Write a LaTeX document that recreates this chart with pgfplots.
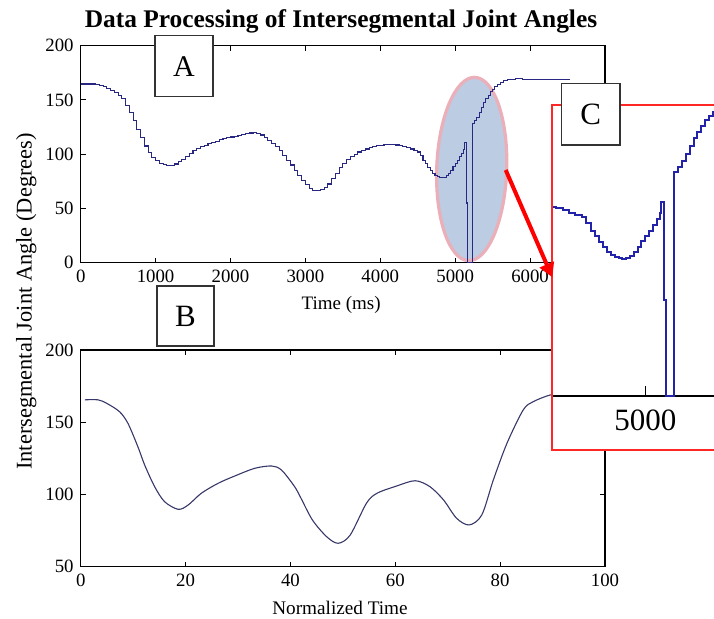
\documentclass[border=0pt]{standalone}
\usepackage{fontspec}
\setmainfont{Liberation Serif}
\usepackage{pgfplots}
\usepackage{pgfplotstable}
\pgfplotsset{compat=1.18}
\usetikzlibrary{arrows.meta}

\definecolor{curveA}{RGB}{40,40,130}
\definecolor{curveB}{RGB}{55,55,105}
\definecolor{insetblue}{RGB}{35,35,170}
\definecolor{ellfill}{RGB}{188,204,226}
\definecolor{ellline}{RGB}{234,175,184}

\pgfplotstableread{
t v
0 164.7
50 164.7
100 164.7
150 164.7
200 164.5
250 163.5
300 162
350 160.5
400 159
450 157
500 154
550 151
600 145
650 138.5
700 131
750 123
800 115
850 107.5
900 101.5
950 97
1000 94
1050 91.8
1100 90.3
1150 89.2
1200 89.5
1250 91
1300 93
1350 95.5
1400 98
1450 100.7
1500 103
1550 105
1600 106.8
1650 108.3
1700 109.5
1750 110.8
1800 112
1850 113.2
1900 114.2
1950 115
2000 115.8
2050 116.6
2100 117.4
2150 118
2200 118.7
2250 119.5
2300 120
2350 119.3
2400 117.7
2450 115.5
2500 113
2550 110.2
2600 107
2650 103
2700 98.7
2750 94.5
2800 90
2850 85.2
2900 80.5
2950 76
3000 71.8
3050 68.5
3100 66.8
3150 66.4
3200 67.2
3250 69.5
3300 72.5
3350 77.3
3400 82.5
3450 87.5
3500 91.8
3550 95.5
3600 98
3650 100
3700 102
3750 103.5
3800 104.8
3850 106
3900 107
3950 107.8
4000 108.4
4050 108.8
4100 109
4150 108.8
4200 108.5
4250 108.2
4300 107.2
4350 106
4400 104.8
4450 103.6
4500 102
4535 99
4570 94.5
4600 91.5
4635 88
4665 85.3
4700 82.5
4730 80.5
4760 79.3
4790 78.6
4820 78.5
4850 78.8
4880 80
4910 82.5
4940 85.3
4970 88.5
5000 91.5
5030 94
5060 97.5
5090 101
5113 104.4
5126 111
5147 55
5160 0
5226 128.2
5260 131
5290 134
5320 138.5
5350 143
5380 147.5
5410 151
5440 154.5
5470 157.5
5500 160
5530 162.5
5560 164.3
5600 166
5650 167.5
5700 168.5
5750 169.2
5800 169.6
5850 169.4
5900 169.2
6527 169.2
}\dataA

\pgfplotstableread{
x v
0.8 165.5
3.3 165.5
5 163
7.4 157.3
9 149.3
10.9 133.1
12.2 120.4
14.1 105.4
16 95
18.6 89.7
20.5 92.7
23 100.8
26.2 107.7
29.4 112.8
33.2 118.1
36.4 119.7
38.3 116.9
40.8 105.4
42 97.5
44.2 82.3
46.9 70.8
49.1 66.2
51.4 71.9
54.5 93.9
56.5 100.8
60.3 105.9
63.8 109.5
66.6 105.4
69.2 96.2
71.7 83.5
74.1 78.9
76.5 85.8
78.7 110
81.3 135.4
84.4 158.5
86.3 164.2
89.5 168.8
92 169.5
100 169.5
}\dataB

\pgfplotsset{
  mystyle/.style={
    scale only axis,
    width=262.15pt,
    anchor=south west,
    tick align=inside,
    tick pos=both,
    xticklabel pos=lower,
    yticklabel pos=left,
    major tick length=2.5pt,
    axis line style={line width=0.55pt, black},
    tick style={line width=0.55pt, black},
    ticklabel style={font=\fontsize{9.4}{11}\selectfont},
    /pgf/number format/assume math mode=true,
    /pgf/number format/set thousands separator={},
    scaled ticks=false,
  }
}

\begin{document}
\begin{tikzpicture}
\path[use as bounding box] (0,0) rectangle (357pt,309.5pt);

% highlight ellipse
\filldraw[fill=ellfill, draw=ellline, line width=1.6pt, rotate around={-2:(235.85pt,225pt)}]
  (235.85pt,225pt) ellipse [x radius=17.5pt, y radius=45.85pt];

% Panel A
\begin{axis}[mystyle,
  at={(40.35pt,178.15pt)}, height=108.5pt,
  xmin=0, xmax=7000, ymin=0, ymax=200,
  xtick={0,1000,...,7000}, ytick={0,50,...,200}]
\addplot[const plot, color=curveA, line width=0.55pt] table[x=t, y=v] {\dataA};
\end{axis}

% Panel B
\begin{axis}[mystyle,
  at={(40.35pt,26.15pt)}, height=108.35pt,
  xmin=0, xmax=100, ymin=50, ymax=200,
  xtick={0,20,...,100}, ytick={50,100,...,200}]
\addplot[smooth, tension=0.5, color=curveB, line width=0.55pt] table[x=x, y=v] {\dataB};
\end{axis}

% Inset C
\fill[white] (275.85pt,84.5pt) rectangle (357pt,257pt);
\begin{axis}[
  at={(275.85pt,84.5pt)}, anchor=south west,
  scale only axis, width=81.15pt, height=172.5pt,
  xmin=4263, xmax=5541, ymin=-30.9, ymax=166.3,
  axis x line=middle, axis y line=none,
  axis line style={-, line width=1pt, black},
  xtick={5000}, ytick=\empty,
  major tick length=0pt,
  xticklabel style={font=\fontsize{15.5}{18}\selectfont, below, yshift=-3.5pt},
  /pgf/number format/assume math mode=true,
  /pgf/number format/set thousands separator={},
  scaled ticks=false]
\draw[black, line width=0.6pt] (axis cs:5000,0) -- ++(0pt,5pt);
\addplot[const plot, color=insetblue, line width=1pt] table[x=t, y=v] {\dataA};
\end{axis}
\draw[red!85, line width=0.8pt] (357pt,257pt) -- (275.85pt,257pt) -- (275.85pt,84.5pt) -- (357pt,84.5pt);

% arrow
\draw[red, line width=2pt, -{Triangle[length=7pt,width=7.5pt]}] (252.85pt,224.5pt) -- (276.15pt,170.85pt);

% letter boxes
\filldraw[fill=white, draw=black!80, line width=0.75pt] (77.5pt,261.15pt) rectangle (106.5pt,291.65pt);
\node[font=\fontsize{15}{18}\selectfont] at (92pt,276.4pt) {A};
\filldraw[fill=white, draw=black!80, line width=0.75pt] (78.5pt,136.5pt) rectangle (107pt,166.5pt);
\node[font=\fontsize{15.5}{18}\selectfont] at (92.75pt,151.5pt) {B};
\filldraw[fill=white, draw=black!80, line width=0.75pt] (280.85pt,237pt) rectangle (310pt,267.85pt);
\node[font=\fontsize{15.5}{18}\selectfont] at (295.4pt,252.4pt) {C};

% labels
\node[anchor=base, font=\fontsize{9.5}{11}\selectfont] at (170.6pt,154.85pt) {Time (ms)};
\node[anchor=base, font=\fontsize{9.6}{11}\selectfont] at (170pt,2pt) {Normalized Time};
\node[anchor=base, rotate=90, font=\fontsize{11.2}{13}\selectfont] at (15.85pt,158.75pt) {Intersegmental Joint Angle (Degrees)};
\node[anchor=base, font=\bfseries\fontsize{12.7}{15}\selectfont] at (170.5pt,295.75pt) {Data Processing of Intersegmental Joint Angles};
\end{tikzpicture}
\end{document}
